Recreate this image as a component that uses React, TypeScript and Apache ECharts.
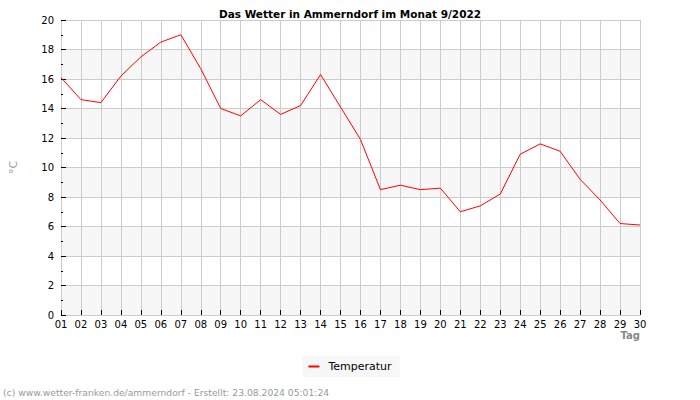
import React, { useEffect, useRef } from "react";
import * as echarts from "echarts";

const days = ["01","02","03","04","05","06","07","08","09","10","11","12","13","14","15","16","17","18","19","20","21","22","23","24","25","26","27","28","29","30"];
const temperatur = [16.1,14.6,14.4,16.2,17.5,18.5,19.0,16.7,14.0,13.5,14.6,13.6,14.2,16.3,14.1,11.9,8.5,8.8,8.5,8.6,7.0,7.4,8.2,10.9,11.6,11.1,9.2,7.8,6.2,6.1];
const titleText = "Das Wetter in Ammerndorf im Monat 9/2022";
const footerText = "(c) www.wetter-franken.de/ammerndorf - Erstellt: 23.08.2024 05:01:24";
const FONT = "DejaVu Sans";

export default function App() {
  const ref = useRef<HTMLDivElement>(null);
  useEffect(() => {
    const chart = echarts.init(ref.current!, null, { renderer: "svg" });
    chart.setOption({
      animation: false,
      backgroundColor: "#fff",
      textStyle: { fontFamily: FONT },
      title: {
        text: titleText,
        left: "center",
        top: 3,
        textStyle: { fontFamily: FONT, fontSize: 10.5, fontWeight: "bold", color: "#000" },
      },
      grid: { left: 61, right: 60, top: 20, bottom: 85, containLabel: false, outerBoundsMode: "none" },
      legend: {
        data: ["Temperatur"],
        left: "center",
        top: 356,
        backgroundColor: "#f7f7f7",
        padding: [5, 8, 5, 6],
        itemWidth: 11,
        itemHeight: 2,
        icon: "rect",
        itemGap: 10,
        textStyle: { fontFamily: FONT, fontSize: 11, color: "#000", padding: [0, 0, 0, 4] },
      },
      xAxis: {
        type: "category",
        data: days,
        boundaryGap: false,
        axisLine: { show: true, lineStyle: { color: "#ccc" } },
        axisTick: { show: true, inside: true, length: 5, lineStyle: { color: "#000" } },
        axisLabel: { fontFamily: FONT, fontSize: 10, color: "#000", margin: 4, interval: 0 },
        splitLine: { show: true, lineStyle: { color: "#ccc" } },
      },
      yAxis: {
        type: "value",
        min: 0,
        max: 20,
        interval: 2,
        name: "°C",
        nameLocation: "middle",
        nameRotate: 90,
        nameGap: 42,
        nameTextStyle: { fontFamily: FONT, fontSize: 11, color: "#999" },
        axisLine: { show: true, lineStyle: { color: "#ccc" } },
        axisTick: { show: true, inside: true, length: 5, lineStyle: { color: "#000" } },
        minorTick: { show: true, splitNumber: 2, length: 2, lineStyle: { color: "#000" } },
        axisLabel: { fontFamily: FONT, fontSize: 10, color: "#000", margin: 7 },
        splitLine: { show: true, lineStyle: { color: "#ccc" } },
        splitArea: { show: true, areaStyle: { color: ["#f7f7f7", "#ffffff"] } },
      },
      graphic: [
        {
          type: "text",
          right: 60,
          top: 330,
          style: { text: "Tag", font: `bold 10px "${FONT}"`, fill: "#888" },
        },
        {
          type: "text",
          left: 3,
          top: 388,
          style: { text: footerText, font: `9.2px "${FONT}"`, fill: "#999" },
        },
      ],
      series: [
        {
          name: "Temperatur",
          type: "line",
          data: temperatur,
          symbol: "none",
          lineStyle: { color: "#ff0000", width: 1 },
          itemStyle: { color: "#ff0000" },
        },
      ],
    });
    return () => chart.dispose();
  }, []);
  return <div ref={ref} style={{ width: 700, height: 400, position: "absolute", left: 0, top: 0 }} />;
}
